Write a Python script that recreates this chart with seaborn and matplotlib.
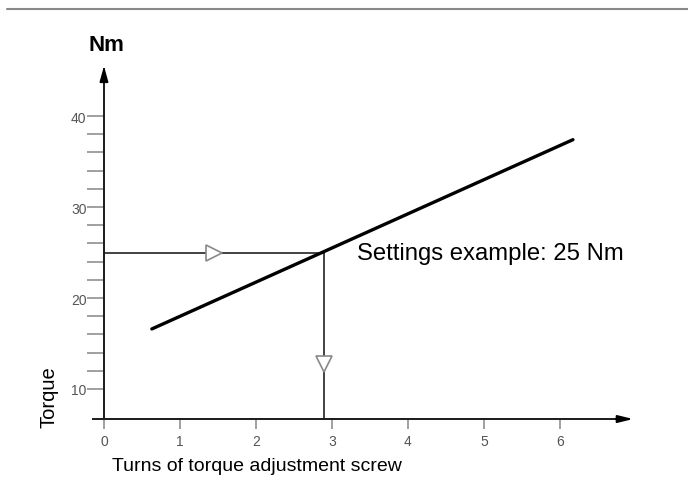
# Torque vs turns of the adjustment screw

import numpy as np
import pandas as pd
import matplotlib
matplotlib.use('Agg')
import matplotlib.pyplot as plt
import seaborn as sns

# data
turns = [0.63, 6.17]
torque = [16.6, 37.4]
set_turns = 2.9
set_torque = 25
x_ticks = [0, 1, 2, 3, 4, 5, 6]
y_major = [10, 20, 30, 40]
y_minor = [12, 14, 16, 18, 22, 24, 26, 28, 32, 34, 36, 38]

sns.set_style('white')
plt.rcParams['font.family'] = ['Liberation Sans', 'DejaVu Sans']
plt.rcParams['text.color'] = 'black'

fig = plt.figure(figsize=(6.88, 4.89), dpi=100)
ax = fig.add_axes([0, 0, 1, 1])
ax.set_xlim(-1.368, 7.684)
ax.set_ylim(-0.88, 52.86)
ax.patch.set_alpha(0)

x0, y0 = -0.14, 6.7  # where the axes cross
# axes with arrow heads
ax.spines[['top', 'right']].set_visible(False)
ax.spines['left'].set_position(('data', 0))
ax.spines['bottom'].set_position(('data', y0))
ax.spines['left'].set_bounds(y0, 45.2)
ax.spines['bottom'].set_bounds(x0, 6.9)
for s in ['left', 'bottom']:
    ax.spines[s].set_linewidth(1.4)
    ax.spines[s].set_color('#1a1a1a')
ax.annotate('', xy=(0, 45.8), xytext=(0, 43.5),
            arrowprops=dict(arrowstyle='-|>,head_width=0.25,head_length=0.9', color='k', lw=1.4))
ax.annotate('', xy=(7.0, y0), xytext=(6.7, y0),
            arrowprops=dict(arrowstyle='-|>,head_width=0.22,head_length=0.9', color='k', lw=1.4))

ax.set_xticks(x_ticks)
ax.set_xticklabels([str(t) for t in x_ticks])
ax.set_yticks(y_major)
ax.set_yticklabels([str(t) for t in y_major])
ax.set_yticks(y_minor, minor=True)
ax.tick_params(axis='x', bottom=True, direction='out', length=7, width=1.3, color='#999999',
               labelcolor='#555555', labelsize=10, pad=4)
ax.tick_params(axis='y', which='both', left=True, direction='out', length=12.5, width=1.3,
               color='#999999', labelcolor='#555555', labelsize=10, pad=0)

# setting guide lines
ax.plot([0, set_turns], [set_torque, set_torque], color='#222222', lw=1.2)
ax.plot([set_turns, set_turns], [set_torque, y0], color='#222222', lw=1.2)
ax.plot([set_turns / 2], [set_torque], marker='>', markersize=11, mfc='white',
        mec='#888888', mew=1.2, ls='none')
ax.plot([set_turns], [12.7], marker='v', markersize=12, mfc='white',
        mec='#888888', mew=1.2, ls='none')

# characteristic line
df = pd.DataFrame({'turns': turns, 'torque': torque})
sns.lineplot(data=df, x='turns', y='torque', color='black', lw=2.4, ax=ax,
             solid_capstyle='round')
ax.set_xlabel('')
ax.set_ylabel('')

ax.text(3.33, set_torque, 'Settings example: 25 Nm', fontsize=17.2, va='center', ha='left')
ax.text(0.03, 47.9, 'Nm', fontsize=16, fontweight='bold', va='center', ha='center')
ax.text(0.1, 1.6, 'Turns of torque adjustment screw', fontsize=14, va='center', ha='left')
ax.text(-0.72, 9.2, 'Torque', fontsize=14.5, rotation=90, va='center', ha='center')

# rule at the top of the page
fig.add_artist(plt.Line2D([0.01, 1.0], [0.979, 0.979], color='#888888', lw=1.5))

fig.savefig('out.png', dpi=100)
